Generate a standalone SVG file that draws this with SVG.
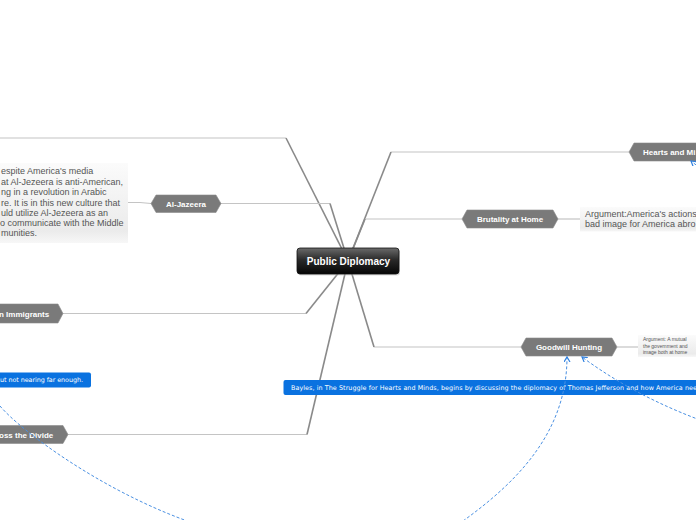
<svg xmlns="http://www.w3.org/2000/svg" width="696" height="520" viewBox="0 0 696 520">
<style>
.hz{fill:none;stroke:#c4c4c4;stroke-width:1.2}
.dg{fill:none;stroke:#8a8a8a;stroke-width:1.6}
.hex{fill:#7a7a7a;stroke:#8c8c8c;stroke-width:0.6}
.hl{font-family:"Liberation Sans",Arial,sans-serif;font-weight:bold;font-size:8px;fill:#fff}
.nt{font-family:"Liberation Sans",Arial,sans-serif;font-size:9px;fill:#555}
.bt{font-family:"DejaVu Sans",Verdana,sans-serif;font-size:6.4px;fill:#fff}
.rel{fill:none;stroke:#4a90e2;stroke-width:1;stroke-dasharray:3 2}
</style>
<defs>
<linearGradient id="cg" x1="0" y1="0" x2="0" y2="1">
<stop offset="0" stop-color="#6a6a6a"/>
<stop offset="0.45" stop-color="#2a2a2a"/>
<stop offset="1" stop-color="#050505"/>
</linearGradient>
<linearGradient id="ng" x1="0" y1="0" x2="0" y2="1">
<stop offset="0" stop-color="#fbfbfb"/>
<stop offset="0.85" stop-color="#ebebeb"/>
<stop offset="1" stop-color="#f7f7f7"/>
</linearGradient>
<marker id="ah" markerWidth="7" markerHeight="7" refX="5" refY="3" orient="auto" markerUnits="userSpaceOnUse">
<path d="M0,0 L5,3 L0,6" fill="none" stroke="#2f80e0" stroke-width="1.2"/>
</marker>
</defs>
<rect width="696" height="520" fill="#fff"/>

<g id="connectors">
<path class="hz" d="M0,138 L286,138"/>
<path class="dg" d="M286,138 L348,261"/>
<path class="hz" d="M220,203.5 L330,203.5"/>
<path class="dg" d="M330,203.5 L348,261"/>
<path class="hz" d="M128,202.5 L140,202.5 L151,203.5"/>
<path class="hz" d="M391,152 L629,152"/>
<path class="dg" d="M391,152 L348,261"/>
<path class="hz" d="M365,219 L462,219"/>
<path class="dg" d="M365,219 L348,261"/>
<path class="hz" d="M557,219 L580,219"/>
<path class="hz" d="M374,347 L521,347"/>
<path class="dg" d="M374,347 L348,261"/>
<path class="hz" d="M617,347 L638,347"/>
<path class="hz" d="M63,313.5 L306,313.5"/>
<path class="dg" d="M306,313.5 L348,261"/>
<path class="hz" d="M68,434.5 L307,434.5"/>
<path class="dg" d="M307,434.5 L348,261"/>
</g>

<g id="aljazeera-note">
<rect x="-10" y="163" width="138" height="80" fill="url(#ng)"/>
<text class="nt" x="1" y="174">espite America's media</text>
<text class="nt" x="1" y="184.5">at Al-Jezeera is anti-American,</text>
<text class="nt" x="1" y="195">ng in a revolution in Arabic</text>
<text class="nt" x="1" y="205.5">re. It is in this new culture that</text>
<text class="nt" x="1" y="215.5">uld utilize Al-Jezeera as an</text>
<text class="nt" x="0" y="226">o communicate with the Middle</text>
<text class="nt" x="1" y="236">munities.</text>
</g>

<g id="aljazeera">
<polygon class="hex" points="151,203.5 156,195 216,195 221,203.5 216,212.5 156,212.5"/>
<text class="hl" x="186" y="206.5" text-anchor="middle">Al-Jazeera</text>
</g>

<g id="hearts">
<polygon class="hex" points="629,152 634,143 700,143 700,161 634,161"/>
<text class="hl" x="643" y="154.5">Hearts and Mi</text>
</g>

<g id="brutality">
<polygon class="hex" points="462,219 467,210 553,210 558,219 553,228 467,228"/>
<text class="hl" x="510" y="222" text-anchor="middle">Brutality at Home</text>
</g>
<g id="brutality-note">
<rect x="580" y="207" width="120" height="24.5" fill="url(#ng)"/>
<text class="nt" x="585" y="216.5">Argument:America's actions</text>
<text class="nt" x="585" y="227">bad image for America abro</text>
</g>

<g id="goodwill">
<polygon class="hex" points="521,347 526,338 612,338 617,347 612,356 526,356"/>
<text class="hl" x="569" y="350" text-anchor="middle">Goodwill Hunting</text>
</g>
<g id="goodwill-note">
<rect x="638" y="335" width="62" height="22" fill="url(#ng)"/>
<text class="nt" x="643" y="341" style="font-size:5px">Argument: A mutual</text>
<text class="nt" x="643" y="347.5" style="font-size:5px">the government and</text>
<text class="nt" x="643" y="354" style="font-size:5px">image both at home</text>
</g>

<g id="immigrants">
<polygon class="hex" points="-5,304 58,304 63,313.5 58,323 -5,323"/>
<text class="hl" x="-1" y="316.5">n Immigrants</text>
</g>

<g id="divide">
<polygon class="hex" points="-5,425.5 63,425.5 68,434.5 63,443.5 -5,443.5"/>
<text class="hl" x="-1" y="437.5">oss the Divide</text>
</g>

<g id="divide-note">
<rect x="-5" y="372.5" width="96" height="15" rx="2" fill="#0a72e0"/>
<text class="bt" x="0" y="382.3" textLength="83">ut not nearing far enough.</text>
</g>

<g id="bayles-note">
<rect x="283.5" y="380" width="420" height="15" rx="2" fill="#0a72e0"/>
<text class="bt" x="291" y="389.8" textLength="406">Bayles, in The Struggle for Hearts and Minds, begins by discussing the diplomacy of Thomas Jefferson and how America nee</text>
</g>

<g id="relations">
<path class="rel" d="M0,406 C20,430 100,490 190,522"/>
<path class="rel" d="M463,521 C520,480 567,430 567,357" marker-end="url(#ah)"/>
<path class="rel" d="M700,420 C660,405 620,385 582,357" marker-end="url(#ah)"/>
<path class="rel" d="M700,168 L691,161" marker-end="url(#ah)"/>
</g>

<g id="public-diplomacy">
<rect x="298" y="249.5" width="102" height="26" rx="3" fill="#bbb" opacity="0.5"/>
<rect x="297" y="248" width="102" height="26" rx="3" fill="url(#cg)" stroke="#111" stroke-width="0.8"/>
<text x="348.5" y="265" text-anchor="middle" style="font-family:'Liberation Sans',Arial,sans-serif;font-weight:bold;font-size:10px;fill:#fff">Public Diplomacy</text>
</g>
</svg>
